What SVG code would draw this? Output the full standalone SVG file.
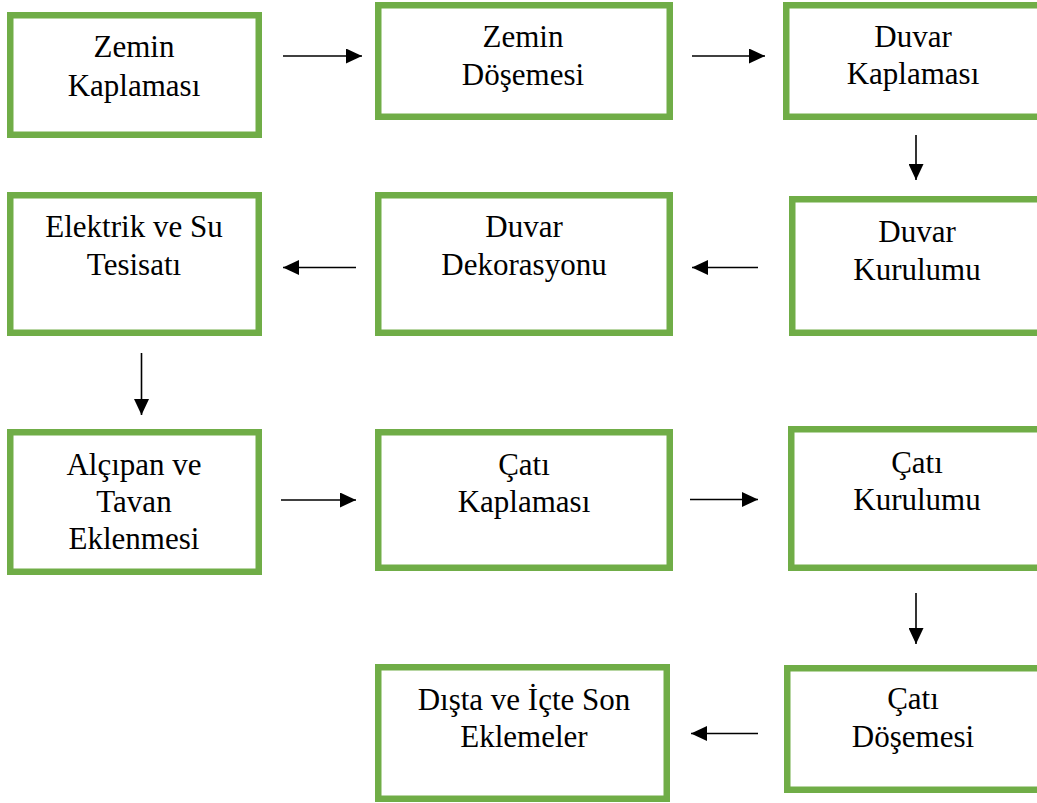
<svg xmlns="http://www.w3.org/2000/svg" width="1037" height="803" viewBox="0 0 1037 803">
<style>
.box{fill:#fff;stroke:#70AD47;stroke-width:6.5}
.t{font-family:"Liberation Serif","Times New Roman",serif;font-size:31px;fill:#000;text-anchor:middle}
.c{stroke:#000;stroke-width:1.6;fill:none;marker-end:url(#ah)}
</style>
<defs>
<marker id="ah" viewBox="0 0 16 15" refX="16" refY="7.5" markerWidth="16" markerHeight="15" markerUnits="userSpaceOnUse" orient="auto">
<path d="M0,0 L16,7.5 L0,15 z" fill="#000"/>
</marker>
</defs>
<rect width="1037" height="803" fill="#fff"/>
<g id="n1"><rect class="box" x="10.25" y="15.25" width="248.5" height="119.5"/><text class="t" x="134" y="57">Zemin</text><text class="t" x="134" y="96">Kaplaması</text></g>
<g id="n2"><rect class="box" x="378.25" y="5.25" width="291.5" height="111.5"/><text class="t" x="523" y="47">Zemin</text><text class="t" x="523" y="85">Döşemesi</text></g>
<g id="n3"><rect class="box" x="786.25" y="5.25" width="256" height="111.5"/><text class="t" x="913" y="47">Duvar</text><text class="t" x="913" y="84">Kaplaması</text></g>
<g id="n4"><rect class="box" x="792.25" y="199.25" width="250" height="133.5"/><text class="t" x="917" y="242">Duvar</text><text class="t" x="917" y="280">Kurulumu</text></g>
<g id="n5"><rect class="box" x="378.25" y="195.25" width="291.5" height="137.5"/><text class="t" x="524" y="237">Duvar</text><text class="t" x="524" y="275">Dekorasyonu</text></g>
<g id="n6"><rect class="box" x="10.25" y="195.25" width="248.5" height="137.5"/><text class="t" x="134" y="237">Elektrik ve Su</text><text class="t" x="134" y="275">Tesisatı</text></g>
<g id="n7"><rect class="box" x="10.25" y="432.25" width="248.5" height="139.5"/><text class="t" x="134" y="475">Alçıpan ve</text><text class="t" x="134" y="512">Tavan</text><text class="t" x="134" y="549">Eklenmesi</text></g>
<g id="n8"><rect class="box" x="378.25" y="432.25" width="291.5" height="135.5"/><text class="t" x="524" y="475">Çatı</text><text class="t" x="524" y="512">Kaplaması</text></g>
<g id="n9"><rect class="box" x="791.25" y="429.25" width="251" height="138.5"/><text class="t" x="917" y="473">Çatı</text><text class="t" x="917" y="510">Kurulumu</text></g>
<g id="n10"><rect class="box" x="787.25" y="668.25" width="255" height="121.5"/><text class="t" x="913" y="709">Çatı</text><text class="t" x="913" y="747">Döşemesi</text></g>
<g id="n11"><rect class="box" x="378.25" y="667.25" width="288.5" height="131.5"/><text class="t" x="524" y="710">Dışta ve İçte Son</text><text class="t" x="524" y="747">Eklemeler</text></g>
<g id="connectors">
<line class="c" x1="283" y1="56" x2="362" y2="56"/>
<line class="c" x1="692" y1="56" x2="765" y2="56"/>
<line class="c" x1="916" y1="135" x2="916" y2="180"/>
<line class="c" x1="758" y1="267.5" x2="692" y2="267.5"/>
<line class="c" x1="356" y1="267.5" x2="283" y2="267.5"/>
<line class="c" x1="141.5" y1="353" x2="141.5" y2="415"/>
<line class="c" x1="281" y1="500" x2="356" y2="500"/>
<line class="c" x1="690" y1="499.5" x2="758" y2="499.5"/>
<line class="c" x1="916" y1="593" x2="916" y2="644"/>
<line class="c" x1="758" y1="733.5" x2="691" y2="733.5"/>
</g>
</svg>
